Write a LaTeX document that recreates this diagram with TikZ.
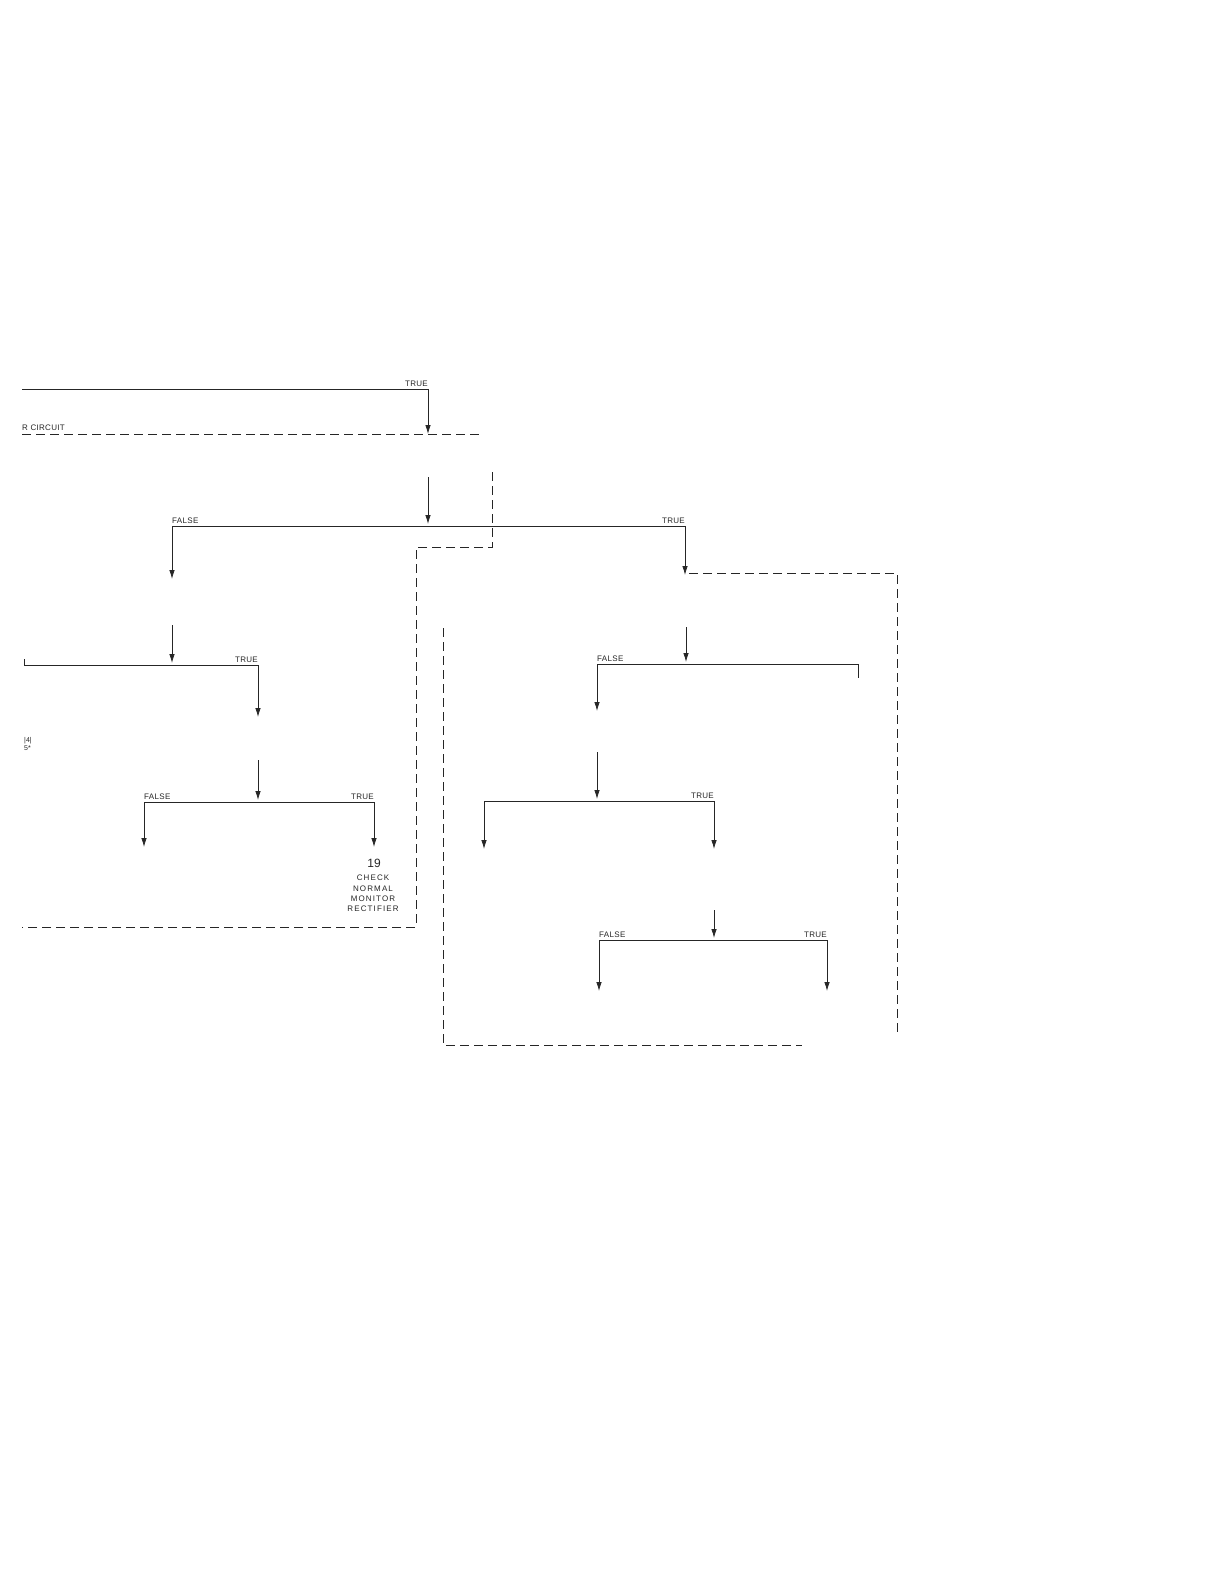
\documentclass[tikz,border=0pt]{standalone}
\usepackage{fontspec}
\setmainfont{Liberation Sans}
\usetikzlibrary{arrows.meta}
\definecolor{ink}{gray}{0.15}
\begin{document}
\begin{tikzpicture}[x=1pt,y=-1pt,
  flow/.style={draw=ink,line width=0.8pt},
  arr/.style={flow,-{Latex[length=9pt,width=5.5pt]}},
  bound/.style={draw=ink,line width=0.8pt,dash pattern=on 9pt off 5pt},
  lbl/.style={text=ink,font=\fontsize{8}{8}\selectfont\addfontfeature{LetterSpace=4},inner sep=0pt},
  boxtxt/.style={text=ink,font=\fontsize{8}{10.3}\selectfont\addfontfeature{LetterSpace=14},inner sep=0pt,align=center},
]
\useasboundingbox[fill=white] (0,0) rectangle (1224,1586);

% top TRUE line
\coordinate (a0) at (22,389);
\coordinate (a1) at (428,389);
\coordinate (a2) at (428,434);
\draw[flow] (a0) -- (a1);
\draw[arr] (a1) -- (a2);
\node[lbl,anchor=south east] (la1) at ([yshift=2pt]a1) {TRUE};

% R CIRCUIT dashed boundary
\coordinate (r0) at (22,434);
\coordinate (r1) at (480,434);
\draw[bound] (r0) -- (r1);
\node[lbl,anchor=south west] (lr) at ([yshift=3pt]r0) {R CIRCUIT};

% decision 1
\coordinate (b0) at (428,477);
\coordinate (b1) at (428,526);
\coordinate (bl) at (172,526);
\coordinate (br) at (685,526);
\coordinate (bld) at (172,579);
\coordinate (brd) at (685,575);
\draw[arr] (b0) -- ([yshift=2pt]b1);
\draw[flow] (bl) -- (br);
\draw[arr] (bl) -- (bld);
\draw[arr] (br) -- (brd);
\node[lbl,anchor=south west] (lbf) at ([yshift=2pt]bl) {FALSE};
\node[lbl,anchor=south east] (lbt) at ([yshift=2pt]br) {TRUE};

% left dashed boundary
\coordinate (d0) at (492,472);
\coordinate (d1) at (492,547);
\coordinate (d2) at (416,547);
\coordinate (d3) at (416,927);
\coordinate (d4) at (22,927);
\draw[bound] (d0) -- (d1) -- (d2) -- (d3) -- (d4);

% right dashed boundary
\coordinate (e0) at (689,573);
\coordinate (e1) at (897,573);
\coordinate (e2) at (897,1032);
\draw[bound] (e0) -- (e1) -- (e2);
\coordinate (f0) at (443,628);
\coordinate (f1) at (443,1045);
\coordinate (f2) at (802,1045);
\draw[bound] (f0) -- (f1) -- (f2);

% decision 2 (left)
\coordinate (c0) at (172,625);
\coordinate (c1) at (172,665);
\coordinate (cl) at (24,665);
\coordinate (ct) at (24,659);
\coordinate (cr) at (258,665);
\coordinate (crd) at (258,717);
\draw[arr] (c0) -- ([yshift=2pt]c1);
\draw[flow] (ct) -- (cl) -- (cr);
\draw[arr] (cr) -- (crd);
\node[lbl,anchor=south east] (lct) at ([yshift=2pt]cr) {TRUE};
\node[lbl,anchor=north west,font=\fontsize{7}{8}\selectfont,align=left] (frag) at (24,737) {|4|\\5*};

% decision 3 (left)
\coordinate (g0) at (258,760);
\coordinate (g1) at (258,802);
\coordinate (gl) at (144,802);
\coordinate (gr) at (374,802);
\coordinate (gld) at (144,847);
\coordinate (grd) at (374,847);
\draw[arr] (g0) -- ([yshift=2pt]g1);
\draw[flow] (gl) -- (gr);
\draw[arr] (gl) -- (gld);
\draw[arr] (gr) -- (grd);
\node[lbl,anchor=south west] (lgf) at ([yshift=2pt]gl) {FALSE};
\node[lbl,anchor=south east] (lgt) at ([yshift=2pt]gr) {TRUE};
\node[text=ink,font=\fontsize{12}{12}\selectfont,inner sep=0pt] (n19) at (374,863) {19};
\node[boxtxt] (n19t) at (373,893.5) {CHECK\\NORMAL\\MONITOR\\RECTIFIER};

% decision 4 (right)
\coordinate (h0) at (686,627);
\coordinate (h1) at (686,664);
\coordinate (hl) at (597,664);
\coordinate (hr) at (858,664);
\coordinate (hrt) at (858,678);
\coordinate (hld) at (597,711);
\draw[arr] (h0) -- ([yshift=2pt]h1);
\draw[flow] (hl) -- (hr) -- (hrt);
\draw[arr] (hl) -- (hld);
\node[lbl,anchor=south west] (lhf) at ([yshift=2pt]hl) {FALSE};

% decision 5 (right)
\coordinate (k0) at (597,752);
\coordinate (k1) at (597,801);
\coordinate (kl) at (484,801);
\coordinate (kr) at (714,801);
\coordinate (kld) at (484,849);
\coordinate (krd) at (714,849);
\draw[arr] (k0) -- ([yshift=2pt]k1);
\draw[flow] (kl) -- (kr);
\draw[arr] (kl) -- (kld);
\draw[arr] (kr) -- (krd);
\node[lbl,anchor=south east] (lkt) at ([yshift=2pt]kr) {TRUE};

% decision 6 (right)
\coordinate (m0) at (714,910);
\coordinate (m1) at (714,940);
\coordinate (ml) at (599,940);
\coordinate (mr) at (827,940);
\coordinate (mld) at (599,991);
\coordinate (mrd) at (827,991);
\draw[arr] (m0) -- ([yshift=2pt]m1);
\draw[flow] (ml) -- (mr);
\draw[arr] (ml) -- (mld);
\draw[arr] (mr) -- (mrd);
\node[lbl,anchor=south west] (lmf) at ([yshift=2pt]ml) {FALSE};
\node[lbl,anchor=south east] (lmt) at ([yshift=2pt]mr) {TRUE};
\end{tikzpicture}
\end{document}
